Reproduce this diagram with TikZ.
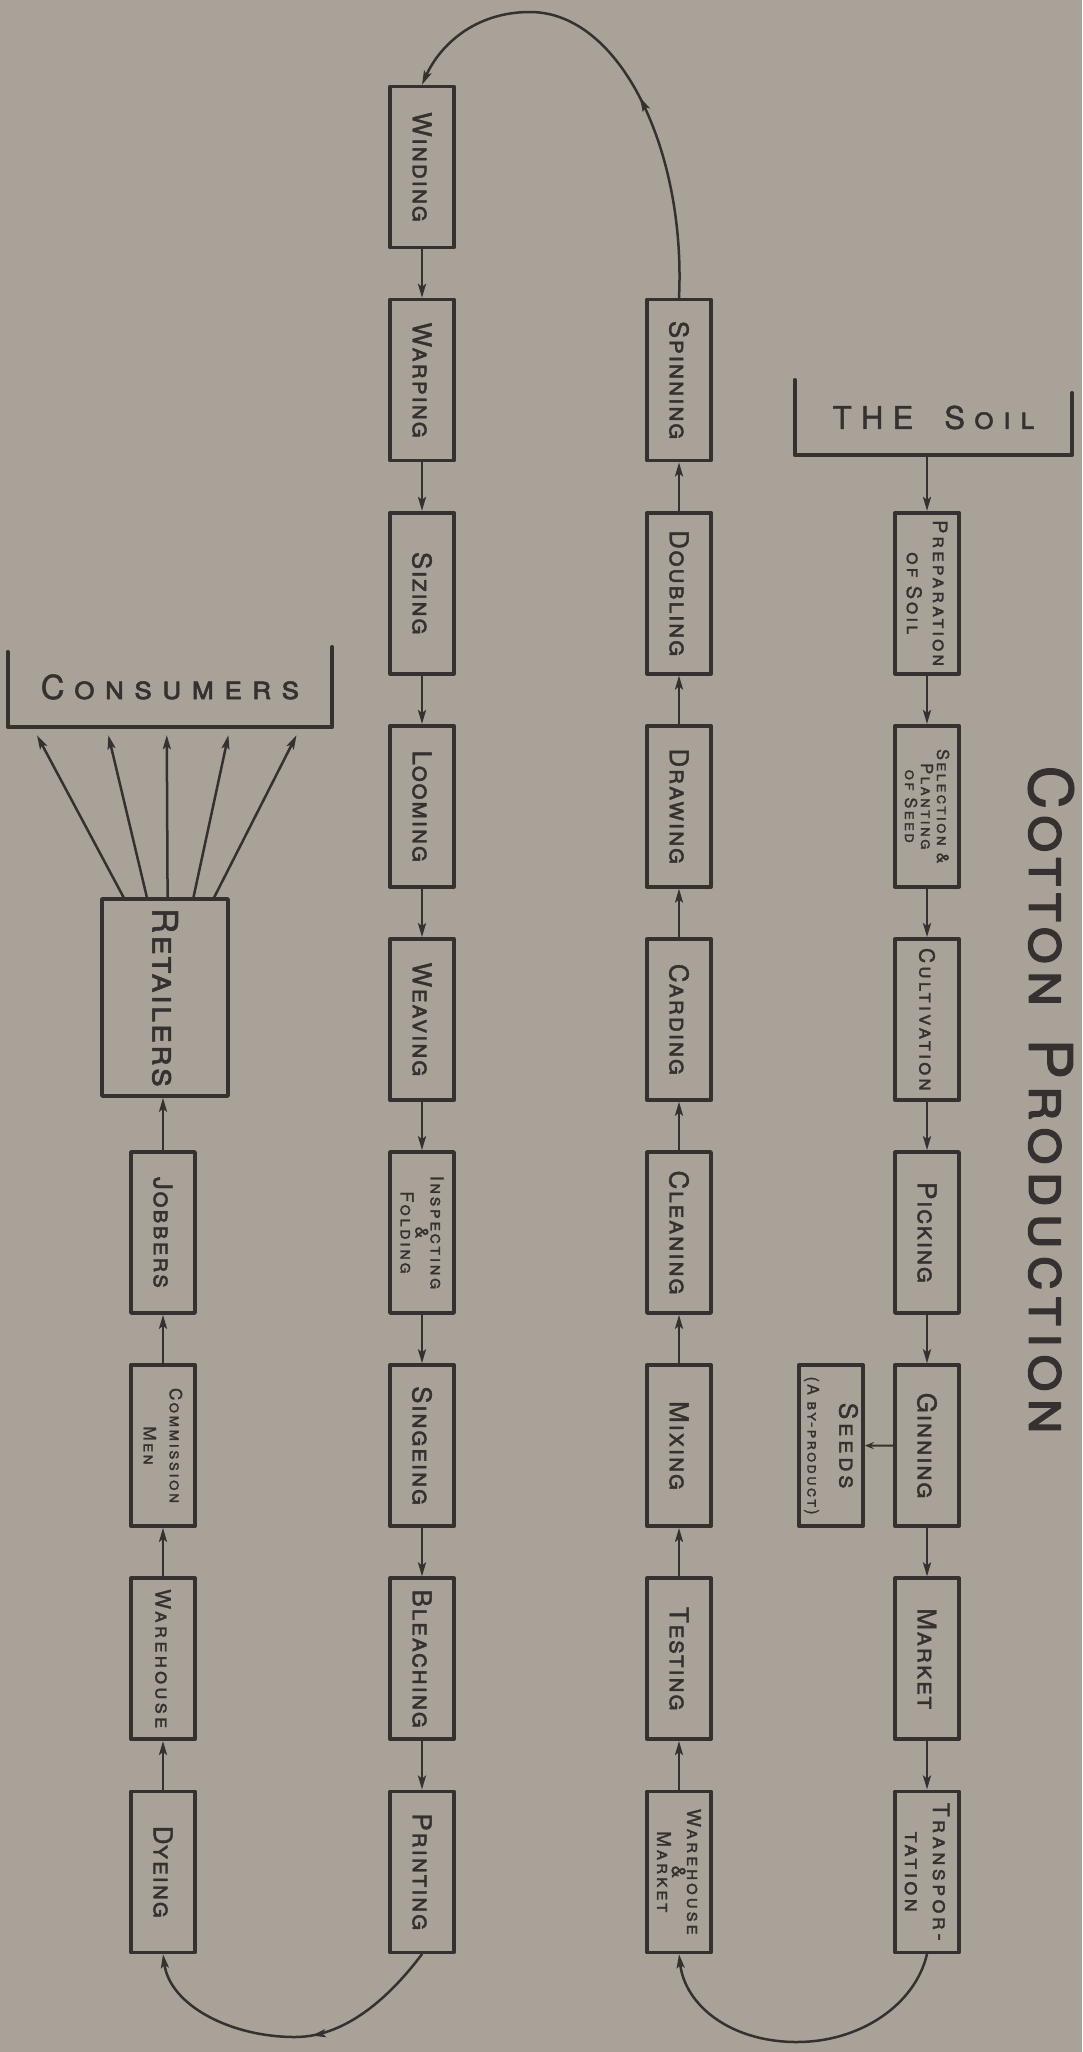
\documentclass[tikz,border=0pt]{standalone}
\usepackage{fontspec}
\usetikzlibrary{arrows.meta,calc,decorations.markings}
\newfontfamily\handfont[Letters=SmallCaps,LetterSpace=6,FakeBold=1.5]{TeX Gyre Heros}
\newfontfamily\widefont[Letters=SmallCaps,LetterSpace=14,FakeBold=1.3]{TeX Gyre Heros}
\newfontfamily\spreadfont[Letters=SmallCaps,LetterSpace=30,FakeBold=1.5]{TeX Gyre Heros}
\newfontfamily\titlefont[Letters=SmallCaps,LetterSpace=11,FakeBold=2]{TeX Gyre Heros}
\definecolor{paper}{RGB}{169,162,153}
\definecolor{ink}{RGB}{54,48,48}
\begin{document}
\begin{tikzpicture}[x=1pt,y=1pt,line join=round,line cap=round,>={Stealth[length=14pt,width=8pt,inset=3pt]},ink]
	\tikzset{box/.style={draw,line width=3.6pt,rotate=-90,minimum width=161pt,minimum height=64pt,inner sep=2pt,align=center},
		big/.style={font=\handfont\fontsize{26}{28}\selectfont},
		sz/.style 2 args={font=\widefont\fontsize{#1}{#2}\selectfont},
		flow/.style={->,line width=2.5pt},
		midarrow/.style={postaction={decorate},decoration={markings,mark=at position #1 with {\arrow{>}}}}}
	% papier
	\fill[paper] (0,0) rectangle (1082,-2052);
	\useasboundingbox (0,0) rectangle (1082,-2052);
	% titel
	\node[rotate=-90,font=\titlefont\fontsize{60}{62}\selectfont] (title) at (1051,-1100) {Cotton\hspace{0.15em} Production};
	% vakken met een woord (gedraaid: west = boven, east = onder)
	\foreach \nm/\xx/\rr/\word in {
		wind/422/0/Winding, warp/422/1/Warping, siz/422/2/Sizing,
		loom/422/3/Looming, weav/422/4/Weaving, sing/422/6/Singeing,
		bleach/422/7/Bleaching, print/422/8/Printing,
		spin/679/1/Spinning, doub/679/2/Doubling, drw/679/3/Drawing,
		card/679/4/Carding, clean/679/5/Cleaning, mix/679/6/Mixing, test/679/7/Testing,
		pick/927/5/Picking, gin/927/6/Ginning, mkt/927/7/Market,
		job/163/5/Jobbers, dye/163/8/Dyeing}
		\node[box,big] (\nm) at (\xx,{-167-213.1*\rr}) {\word};
	% vakken met meer regels
	\node[box,sz={18}{15}] (insp) at (422,-1232.5) {Inspecting\\\&\\Folding};
	\node[box,sz={19}{15}] (wm) at (679,-1871.8) {Warehouse\\\&\\Market};
	\node[box,sz={20}{26}] (prep) at (927,-593.2) {Preparation\\of Soil};
	\node[box,sz={16.5}{16}] (sel) at (927,-806.3) {Selection \&\\Planting\\of Seed};
	\node[box,sz={21}{26}] (cult) at (927,-1019.4) {Cultivation};
	\node[box,sz={22.5}{28}] (trans) at (927,-1871.8) {Transpor-\\tation};
	\node[box,sz={17}{26}] (comm) at (163,-1445.6) {Commission\\Men};
	\node[box,sz={21}{26}] (wh) at (163,-1658.7) {Warehouse};
	\node[box,sz={25}{32}] (seeds) at (831,-1445.6) {Seeds\\{\fontsize{16}{19}\selectfont(A by-product)}};
	\node[box,minimum width=197pt,minimum height=126pt,font=\handfont\fontsize{35}{38}\selectfont] (ret) at (165,-997.5) {Retailers};
	% haken bovenaan
	\node[font=\spreadfont\fontsize{33}{35}\selectfont,minimum width=324pt,minimum height=80pt] (cons) at (170,-687) {Consumers};
	\draw[line width=3.6pt] ([yshift=-5pt]cons.north west) -- (cons.south west) -- (cons.south east) -- (cons.north east);
	\node[font=\spreadfont\fontsize{31}{33}\selectfont,minimum width=277pt,minimum height=75pt] (soil) at (933.5,-417.5) {THE\hspace{1em}Soil};
	\draw[line width=3.6pt] (soil.north west) -- (soil.south west) -- (soil.south east) -- ([yshift=-13pt]soil.north east);
	% pijlen naar beneden
	\draw[flow] (soil.south -| prep.west) -- (prep.west);
	\foreach \a/\b in {wind/warp,warp/siz,siz/loom,loom/weav,weav/insp,insp/sing,sing/bleach,bleach/print,
		prep/sel,sel/cult,cult/pick,pick/gin,gin/mkt,mkt/trans}
		\draw[flow] (\a.east) -- (\b.west);
	% pijlen naar boven
	\foreach \a/\b in {wm/test,test/mix,mix/clean,clean/card,card/drw,drw/doub,doub/spin,
		dye/wh,wh/comm,comm/job}
		\draw[flow] (\a.west) -- (\b.east);
	\draw[flow] (job.west) -- (job.west |- ret.east);
	\draw[->,line width=1.8pt,>={Stealth[length=9pt,width=7pt,inset=3pt]}] (gin.south) -- (seeds.north);
	% naar de verbruikers
	\foreach \a/\b in {0.18/0.09,0.36/0.31,0.52/0.49,0.72/0.68,0.88/0.89}
		\draw[flow] ($(ret.south west)!\a!(ret.north west)$) -- ($(cons.south west)!\b!(cons.south east)+(0,-8)$);
	% bogen
	\draw[flow,midarrow=0.42] (spin.west) .. controls (686,-150) and (620,-12) .. (530,-12)
		.. controls (475,-12) and (440,-45) .. (wind.west);
	\draw[flow,midarrow=0.43] (print.east) .. controls (395,-1990) and (350,-2037) .. (295,-2037)
		.. controls (230,-2037) and (170,-2005) .. (dye.east);
	\draw[flow] (trans.east) .. controls (915,-2005) and (860,-2042) .. (797,-2042)
		.. controls (730,-2042) and (685,-2005) .. (wm.east);
\end{tikzpicture}
\end{document}
